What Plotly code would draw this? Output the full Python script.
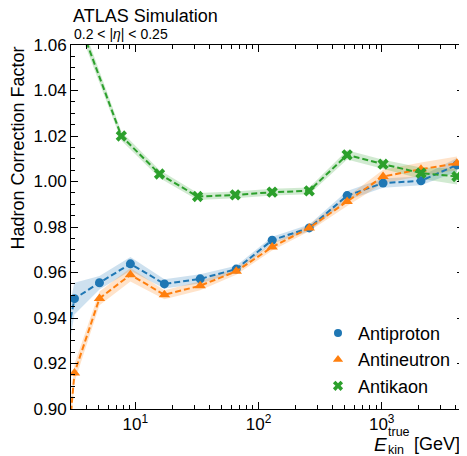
import plotly.graph_objects as go
import numpy as np

# ---- data ----
energy_pn = [2.25, 3.20, 5.11, 9.11, 17.2, 33.6, 65.9, 129, 258, 524, 1026, 2085, 4083]
antiproton = [0.905, 0.9485, 0.9555, 0.9638, 0.9550, 0.9572, 0.9615, 0.9742, 0.9796, 0.9938, 0.9993, 1.0003, 1.0073]
antiproton_err = [0.012, 0.007, 0.003, 0.003, 0.002, 0.002, 0.0015, 0.0015, 0.0015, 0.002, 0.002, 0.002, 0.003]
antineutron = [0.82, 0.9158, 0.9486, 0.9590, 0.9502, 0.9542, 0.9605, 0.9712, 0.9796, 0.9912, 1.0022, 1.0054, 1.0080]
antineutron_err = [0.006, 0.004, 0.003, 0.003, 0.002, 0.002, 0.0015, 0.0015, 0.0015, 0.002, 0.003, 0.003, 0.003]
energy_k = [3.78, 7.69, 15.7, 32.0, 64.7, 129, 258, 524, 1026, 2085, 4083]
antikaon = [1.065, 1.020, 1.0033, 0.9934, 0.9941, 0.9953, 0.9959, 1.0117, 1.0076, 1.0037, 1.0022]
antikaon_err = [0.003, 0.002, 0.0018, 0.0015, 0.0015, 0.0015, 0.0015, 0.002, 0.002, 0.0025, 0.0035]

series = [
    ("Antiproton", energy_pn, antiproton, antiproton_err, "#1f77b4", "rgba(31,119,180,0.22)", "circle", 9),
    ("Antineutron", energy_pn, antineutron, antineutron_err, "#ff7f0e", "rgba(255,127,14,0.22)", "triangle-up", 10),
    ("Antikaon", energy_k, antikaon, antikaon_err, "#2ca02c", "rgba(44,160,44,0.22)", "x", 10),
]

FONT = "Liberation Sans, Arial, Helvetica, sans-serif"
OFF = 8  # page body margin
# desired plot-area box in page pixels
PL, PR, PT, PB = 71, 464, 45, 409.3
W, H = 467 - OFF, 456 - OFF
L, R, T, B = PL - OFF, W - (PR - OFF), PT - OFF, H - (PB - OFF)
pw, ph = PR - PL, PB - PT

def px(x):
    return (x - PL) / pw

def py(y):
    return (PB - y) / ph

fig = go.Figure()
for name, xs, ys, es, col, fcol, sym, ms in series:
    up = [y + e for y, e in zip(ys, es)]
    lo = [y - e for y, e in zip(ys, es)]
    fig.add_trace(go.Scatter(x=list(xs) + list(xs)[::-1], y=up + lo[::-1], fill="toself",
                             fillcolor=fcol, line=dict(width=0), mode="lines",
                             showlegend=False, hoverinfo="skip"))
for name, xs, ys, es, col, fcol, sym, ms in series:
    fig.add_trace(go.Scatter(x=xs, y=ys, mode="lines+markers", showlegend=False,
                             line=dict(color=col, width=2, dash="6px,3px"),
                             marker=dict(symbol=sym, size=ms, color=col, line=dict(width=0))))
for name, xs, ys, es, col, fcol, sym, ms in series:
    fig.add_trace(go.Scatter(x=[None], y=[None], mode="markers", name=name,
                             marker=dict(symbol=sym, size=ms - 1, color=col, line=dict(width=0))))

minor_x = [m * 10 ** d for d in range(0, 4) for m in range(2, 10)]
fig.update_xaxes(type="log", range=[np.log10(3), np.log10(4660)],
                 tickmode="array", tickvals=[10, 100, 1000],
                 ticktext=["10<sup>1</sup>", "10<sup>2</sup>", "10<sup>3</sup>"],
                 ticks="inside", ticklen=7, tickwidth=1, tickcolor="black",
                 minor=dict(ticks="inside", ticklen=4, tickwidth=1, tickcolor="black",
                            tickmode="array", tickvals=minor_x),
                 showline=True, linecolor="black", linewidth=1, mirror="ticks",
                 showgrid=False, zeroline=False,
                 tickfont=dict(family=FONT, size=17, color="black"))
fig.update_yaxes(range=[0.90, 1.06], tickmode="linear", tick0=0.90, dtick=0.02,
                 tickformat=".2f",
                 ticks="inside", ticklen=7, tickwidth=1, tickcolor="black",
                 minor=dict(ticks="inside", ticklen=4, tickwidth=1, tickcolor="black", dtick=0.005),
                 showline=True, linecolor="black", linewidth=1, mirror="ticks",
                 showgrid=False, zeroline=False,
                 tickfont=dict(family=FONT, size=17, color="black"))

ann = [
    dict(text="ATLAS Simulation", x=px(71), y=py(16), xanchor="left", yanchor="middle", font=dict(size=18)),
    dict(text="0.2 &lt; |<i>η</i>| &lt; 0.25", x=px(72), y=py(33.5), xanchor="left", yanchor="middle", font=dict(size=14)),
    dict(text="Hadron Correction Factor", x=px(17), y=1, xanchor="center", yanchor="top", textangle=-90, font=dict(size=18)),
    dict(text="<i>E</i>", x=px(372), y=py(444.5), xanchor="left", yanchor="middle", font=dict(size=19)),
    dict(text="true", x=px(385.5), y=py(432.5), xanchor="left", yanchor="middle", font=dict(size=12.5)),
    dict(text="kin", x=px(385.5), y=py(450), xanchor="left", yanchor="middle", font=dict(size=12.5)),
    dict(text="[GeV]", x=px(411.5), y=py(444.5), xanchor="left", yanchor="middle", font=dict(size=18)),
]
for a in ann:
    a.update(xref="paper", yref="paper", showarrow=False)
    a["font"].update(family=FONT, color="black")
    fig.add_annotation(**a)

fig.update_layout(
    width=W, height=H, margin=dict(l=L, r=R, t=T, b=B, autoexpand=False),
    paper_bgcolor="white", plot_bgcolor="white",
    legend=dict(x=px(318), y=py(315), xanchor="left", yanchor="top",
                bgcolor="rgba(0,0,0,0)", itemwidth=30,
                font=dict(family=FONT, size=18, color="black"), tracegroupgap=0),
    font=dict(family=FONT, color="black"),
)
fig.write_html("out.html")
